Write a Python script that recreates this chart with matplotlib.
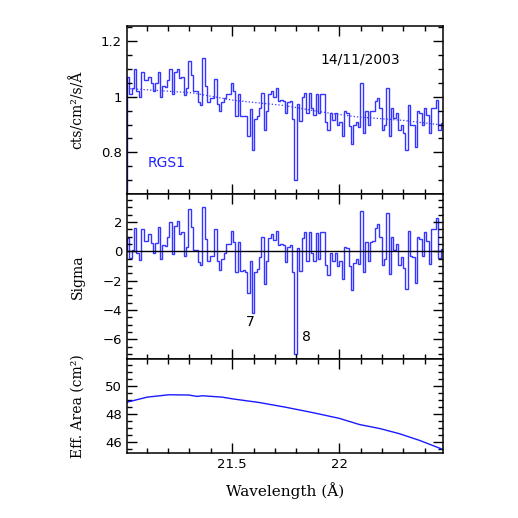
import numpy as np
import matplotlib
matplotlib.use('Agg')
import matplotlib.pyplot as plt
from matplotlib.ticker import MultipleLocator

# sigma residuals per bin (left to right)
sigma = [0.9, -0.45, 0.1, 1.55, -0.1, -0.6, 1.5, 0.7, 0.7, 1.2,
         0.55, -0.15, 0.55, 1.65, -0.5, 0.45, 0.35, 1.0, 2.0, -0.2,
         1.7, 2.05, 1.2, 1.3, -0.35, 0.3, 2.85, 1.65, 0.1, 0.1,
         -0.75, -0.95, 3.0, 0.8, -0.7, -0.3, -0.3, 1.5, -0.7, -1.3,
         -0.5, -0.1, 0.5, 0.5, 1.4, 0.6, -1.4, 0.6, -1.35, -1.3,
         -1.4, -2.85, -0.7, -4.2, -1.45, -1.2, -0.4, 1.0, -2.25, -0.65,
         0.9, 1.15, 0.75, 1.4, 0.4, 0.5, 0.4, -0.75, 0.3, 0.4,
         -1.4, -7.0, 0.2, -1.35, 0.9, 1.3, -0.65, 1.3, -0.1, -0.7,
         1.25, -0.5, 1.3, 1.3, -0.95, -1.6, -0.1, -0.7, -0.1, -1.0,
         -0.7, -1.9, 0.3, 0.2, -1.0, -2.65, -0.8, -0.5, -0.9, 2.75,
         -1.4, 0.6, -0.7, 0.6, 0.7, 1.6, 1.85, 1.0, -0.95, -0.5,
         2.6, -1.55, 1.0, 0.1, 0.5, -0.95, -0.4, -1.15, -2.55, 1.4,
         -0.35, -0.4, -2.2, 1.0, 0.8, -0.3, 1.3, 0.7, -0.9, 1.5,
         1.5, 2.25, -0.45, 0.15]

# flux per bin (cts/cm2/s/A), top panel
flux = [1.07, 1.01, 1.03, 1.10, 1.02, 1.00, 1.09, 1.06, 1.06, 1.07,
        1.05, 1.02, 1.05, 1.09, 1.00, 1.04, 1.035, 1.06, 1.10, 1.01,
        1.09, 1.10, 1.068, 1.07, 1.005, 1.03, 1.13, 1.08, 1.02, 1.02,
        0.98, 0.97, 1.14, 1.04, 0.98, 0.995, 0.995, 1.065, 0.975, 0.95,
        0.98, 0.995, 1.01, 1.01, 1.05, 1.02, 0.93, 1.01, 0.93, 0.93,
        0.93, 0.86, 0.955, 0.81, 0.92, 0.93, 0.96, 1.015, 0.88, 0.95,
        1.01, 1.02, 1.00, 1.03, 0.985, 0.99, 0.985, 0.94, 0.98, 0.985,
        0.92, 0.70, 0.975, 0.912, 1.00, 1.015, 0.94, 1.015, 0.96, 0.935,
        1.01, 0.94, 1.01, 1.01, 0.91, 0.88, 0.94, 0.915, 0.94, 0.90,
        0.91, 0.86, 0.948, 0.943, 0.895, 0.83, 0.90, 0.91, 0.893, 1.05,
        0.87, 0.95, 0.897, 0.95, 0.95, 0.985, 0.995, 0.96, 0.882, 0.90,
        1.03, 0.86, 0.96, 0.924, 0.94, 0.88, 0.90, 0.87, 0.81, 0.97,
        0.90, 0.898, 0.82, 0.95, 0.94, 0.897, 0.96, 0.935, 0.87, 0.96,
        0.96, 0.99, 0.882, 0.905]

# continuum model (dotted line)
model_wave = [21.008, 21.31, 21.51, 21.74, 21.92, 22.08, 22.30, 22.485]
model_flux = [1.030, 1.0145, 0.987, 0.969, 0.945, 0.928, 0.915, 0.898]

# effective area curve
area_wave = [21.008, 21.102, 21.203, 21.297, 21.336, 21.36, 21.453, 21.5,
             21.625, 21.75, 21.875, 22.0, 22.094, 22.19, 22.28, 22.375, 22.485]
area_val = [48.84, 49.2, 49.37, 49.35, 49.25, 49.3, 49.2, 49.08,
            48.82, 48.48, 48.1, 47.69, 47.25, 46.96, 46.6, 46.12, 45.47]

xmin, xmax = 21.008, 22.485
edges = np.linspace(xmin, xmax, len(sigma) + 1)

blue = '#3535ff'
serif = ['DejaVu Serif']

fig = plt.figure(figsize=(5.18, 5.18), dpi=100)
left, width = 0.2452, 0.610
ax1 = fig.add_axes([left, 0.6255, width, 0.3243])
ax2 = fig.add_axes([left, 0.3070, width, 0.3185], sharex=ax1)
ax3 = fig.add_axes([left, 0.1255, width, 0.1815], sharex=ax1)

for ax in (ax1, ax2, ax3):
    ax.tick_params(which='both', direction='in', top=True, right=True,
                   labelsize=9.5, width=1.0)
    ax.tick_params(which='major', length=7)
    ax.tick_params(which='minor', length=3.5)
    for s in ax.spines.values():
        s.set_linewidth(1.1)
    ax.xaxis.set_major_locator(MultipleLocator(0.5))
    ax.xaxis.set_minor_locator(MultipleLocator(0.1))

ax1.set_xlim(xmin, xmax)

# top panel: flux
ax1.stairs(flux, edges, color=blue, lw=1.0)
ax1.plot(model_wave, model_flux, color=blue, ls=':', lw=0.9)
ax1.set_ylim(0.65, 1.255)
ax1.yaxis.set_major_locator(MultipleLocator(0.2))
ax1.yaxis.set_minor_locator(MultipleLocator(0.05))
ax1.set_yticks([0.8, 1.0, 1.2])
ax1.set_yticklabels(['0.8', '1', '1.2'])
ax1.set_ylabel('cts/cm²/s/Å', family=serif, fontsize=10)
ax1.text(22.10, 1.135, '14/11/2003', fontsize=10, ha='center', va='center')
ax1.text(21.106, 0.762, 'RGS1', fontsize=10, color='#2020ff', ha='left', va='center')
ax1.tick_params(labelbottom=False)

# middle panel: sigma
ax2.stairs(sigma, edges, color=blue, lw=1.0)
ax2.axhline(0, color='black', lw=1.0)
ax2.set_ylim(-7.35, 3.9)
ax2.yaxis.set_major_locator(MultipleLocator(2))
ax2.yaxis.set_minor_locator(MultipleLocator(0.5))
ax2.set_yticks([-6, -4, -2, 0, 2])
ax2.set_yticklabels(['\u22126', '\u22124', '\u22122', '0', '2'])
ax2.set_ylabel('Sigma', family=serif, fontsize=10)
ax2.text(21.585, -4.85, '7', fontsize=10, ha='center', va='center')
ax2.text(21.847, -5.85, '8', fontsize=10, ha='center', va='center')
ax2.tick_params(labelbottom=False)

# bottom panel: effective area
ax3.plot(area_wave, area_val, color='#1a1aff', lw=1.0)
ax3.set_ylim(45.22, 51.92)
ax3.yaxis.set_major_locator(MultipleLocator(2))
ax3.yaxis.set_minor_locator(MultipleLocator(0.5))
ax3.set_yticks([46, 48, 50])
ax3.set_ylabel('Eff. Area (cm²)', family=serif, fontsize=10)
ax3.set_xticks([21.5, 22.0])
ax3.set_xticklabels(['21.5', '22'])
ax3.set_xlabel('Wavelength (Å)', family=serif, fontsize=11)

for ax in (ax1, ax2, ax3):
    ax.yaxis.set_label_coords(-0.133, 0.5)
ax3.xaxis.set_label_coords(0.5, -0.31)

fig.savefig('out.png', dpi=100)
